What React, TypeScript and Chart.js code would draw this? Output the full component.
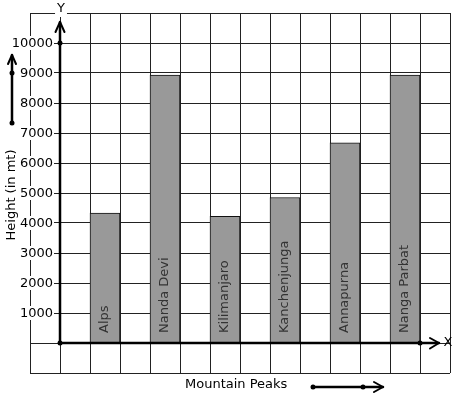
import React, { useEffect, useRef } from "react";
import { Chart, registerables } from "chart.js";

Chart.register(...registerables);

const CATEGORIES = ["Alps", "Nanda Devi", "Kilimanjaro", "Kanchenjunga", "Annapurna", "Nanga Parbat"];
const HEIGHTS = [4330, 8930, 4220, 4850, 6670, 8930];
const Y_TICK_VALUES = [1000, 2000, 3000, 4000, 5000, 6000, 7000, 8000, 9000, 10000];
const Y_MIN = -1000;
const Y_MAX = 11000;
const X_MIN = -1;
const X_MAX = 13;
const X_TITLE = "Mountain Peaks";
const Y_TITLE = "Height (in mt)";

const FONT = '13px "DejaVu Sans"';

function dot(ctx: CanvasRenderingContext2D, x: number, y: number) {
  ctx.beginPath();
  ctx.arc(x, y, 2.5, 0, Math.PI * 2);
  ctx.fill();
}

const decorPlugin = {
  id: "decor",
  afterDatasetsDraw(chart: any) {
    const ctx: CanvasRenderingContext2D = chart.ctx;
    const xs = chart.scales.x;
    const ys = chart.scales.y;
    const ca = chart.chartArea;
    const x0 = xs.getPixelForValue(0);
    const y0 = ys.getPixelForValue(0);
    ctx.save();

    // bar labels
    const meta = chart.getDatasetMeta(0);
    ctx.font = FONT;
    ctx.fillStyle = "#333";
    ctx.textAlign = "left";
    ctx.textBaseline = "middle";
    meta.data.forEach((bar: any, i: number) => {
      ctx.save();
      ctx.translate(bar.x, y0 - 10);
      ctx.rotate(-Math.PI / 2);
      ctx.fillText(CATEGORIES[i], 0, 0);
      ctx.restore();
    });

    // y tick labels
    ctx.textAlign = "right";
    Y_TICK_VALUES.forEach((v) => {
      const y = ys.getPixelForValue(v);
      const label = String(v);
      const w = ctx.measureText(label).width;
      const right = x0 - 7;
      ctx.fillStyle = "#fff";
      ctx.fillRect(right - w - 1, y - 7, w + 2, 14);
      ctx.fillStyle = "#000";
      ctx.fillText(label, right, y + 0.5);
    });

    ctx.strokeStyle = "#000";
    ctx.fillStyle = "#000";
    ctx.lineCap = "round";
    ctx.lineJoin = "round";

    // y axis
    const yTop = ca.top + 9;
    ctx.lineWidth = 2.5;
    ctx.beginPath();
    ctx.moveTo(x0, y0);
    ctx.lineTo(x0, yTop);
    ctx.stroke();
    ctx.lineWidth = 2;
    ctx.beginPath();
    ctx.moveTo(x0 - 4.5, yTop + 10);
    ctx.lineTo(x0, yTop);
    ctx.lineTo(x0 + 4.5, yTop + 10);
    ctx.stroke();
    dot(ctx, x0, ys.getPixelForValue(10000));

    // x axis
    const xEnd = ca.right - 11;
    ctx.lineWidth = 2.5;
    ctx.beginPath();
    ctx.moveTo(x0, y0);
    ctx.lineTo(xEnd, y0);
    ctx.stroke();
    ctx.lineWidth = 2;
    ctx.beginPath();
    ctx.moveTo(xEnd - 9, y0 - 5);
    ctx.lineTo(xEnd, y0);
    ctx.lineTo(xEnd - 9, y0 + 5.5);
    ctx.stroke();
    dot(ctx, xs.getPixelForValue(12), y0);
    dot(ctx, x0, y0);

    // Y and X letters
    ctx.textAlign = "center";
    ctx.textBaseline = "middle";
    const yw = ctx.measureText("Y").width;
    ctx.fillStyle = "#fff";
    ctx.fillRect(x0 + 1 - yw / 2 - 2, ca.top - 6, yw + 4, 10);
    ctx.fillStyle = "#000";
    ctx.fillText("Y", x0 + 1, ca.top - 4);
    ctx.fillText("X", ca.right - 2, y0);

    // y title
    const ax = 12;
    ctx.save();
    ctx.translate(ax, (ca.top + ca.bottom) / 2 + 2);
    ctx.rotate(-Math.PI / 2);
    ctx.fillText(Y_TITLE, 0, 0);
    ctx.restore();

    // decorative left arrow
    const yA = ys.getPixelForValue(9000);
    const yB = ys.getPixelForValue(7330);
    const yApex = ys.getPixelForValue(9600);
    ctx.lineWidth = 2.5;
    ctx.beginPath();
    ctx.moveTo(ax, yB);
    ctx.lineTo(ax, yApex);
    ctx.stroke();
    ctx.lineWidth = 2;
    ctx.beginPath();
    ctx.moveTo(ax - 4, yApex + 9);
    ctx.lineTo(ax, yApex);
    ctx.lineTo(ax + 4, yApex + 9);
    ctx.stroke();
    dot(ctx, ax, yA);
    dot(ctx, ax, yB);

    // x title and decorative arrow
    const ty = ca.bottom + 12;
    ctx.textAlign = "left";
    ctx.fillText(X_TITLE, 185, ty);
    const bx1 = 313;
    const bx2 = 363;
    const bx3 = 383;
    const by = ty + 2;
    ctx.lineWidth = 2.5;
    ctx.beginPath();
    ctx.moveTo(bx1, by);
    ctx.lineTo(bx3, by);
    ctx.stroke();
    ctx.lineWidth = 2;
    ctx.beginPath();
    ctx.moveTo(bx3 - 9, by - 5);
    ctx.lineTo(bx3, by);
    ctx.lineTo(bx3 - 9, by + 5);
    ctx.stroke();
    dot(ctx, bx1, by);
    dot(ctx, bx2, by);

    ctx.restore();
  },
};

export default function App() {
  const canvasRef = useRef<HTMLCanvasElement | null>(null);

  useEffect(() => {
    if (!canvasRef.current) return;
    Chart.defaults.font.family = '"DejaVu Sans"';
    const chart = new Chart(canvasRef.current, {
      type: "bar",
      data: {
        datasets: [
          {
            label: "Height",
            data: HEIGHTS.map((h, i) => ({ x: 1.5 + 2 * i, y: h })),
            backgroundColor: "#999999",
            borderColor: "#111",
            borderWidth: 1,
            borderSkipped: "start",
            categoryPercentage: 1,
            barPercentage: 1,
          },
        ],
      },
      options: {
        animation: false,
        responsive: true,
        maintainAspectRatio: false,
        layout: { padding: { left: 30, top: 13, right: 7, bottom: 26 } },
        plugins: {
          legend: { display: false },
          tooltip: { enabled: false },
          title: { display: false },
        },
        scales: {
          x: {
            type: "linear",
            min: X_MIN,
            max: X_MAX,
            offset: false,
            ticks: { display: false, stepSize: 1 },
            grid: { color: "#222", lineWidth: 1, drawTicks: false, offset: false },
            border: { display: false },
          },
          y: {
            type: "linear",
            min: Y_MIN,
            max: Y_MAX,
            ticks: { display: false, stepSize: 1000 },
            grid: { color: "#222", lineWidth: 1, drawTicks: false },
            border: { display: false },
          },
        },
      },
      plugins: [decorPlugin],
    } as any);
    return () => chart.destroy();
  }, []);

  return (
    <div style={{ position: "absolute", left: 0, top: 0, width: 457, height: 399 }}>
      <canvas ref={canvasRef} />
    </div>
  );
}
